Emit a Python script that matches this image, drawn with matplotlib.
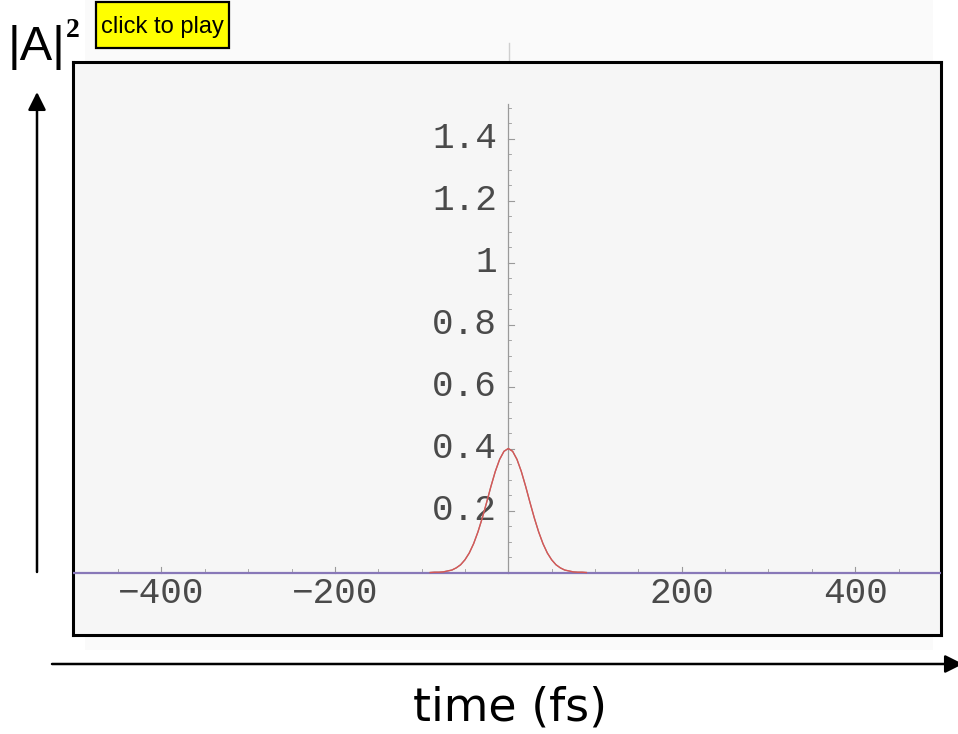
import matplotlib

matplotlib.use("Agg")
import matplotlib.pyplot as plt
from matplotlib.patches import FancyArrowPatch, Rectangle

W, H = 958, 734

# pulse intensity |A|^2 (fs, a.u.)
t_fs = [-90, -85, -80, -75, -70, -65, -60, -55, -50, -45, -40, -35, -30, -25, -20,
        -15, -10, -5, 0, 5, 10, 15, 20, 25, 30, 35, 40, 45, 50, 55, 60, 65, 70, 75,
        80, 85, 90]
intensity = [0.000, 0.001, 0.001, 0.002, 0.005, 0.008, 0.015, 0.025, 0.041, 0.063,
             0.093, 0.131, 0.176, 0.226, 0.278, 0.326, 0.365, 0.391, 0.400, 0.391,
             0.365, 0.326, 0.278, 0.226, 0.176, 0.131, 0.093, 0.063, 0.041, 0.025,
             0.015, 0.008, 0.005, 0.002, 0.001, 0.001, 0.000]

# flat trace along the time axis
base_t = [-510, 510]
base_val = [0.0, 0.0]

x_major = [-400, -200, 200, 400]
x_labels = ["-400", "-200", "200", "400"]
x_minor = [-450, -350, -300, -250, -150, -100, -50, 50, 100, 150, 250, 300, 350, 450]
y_major = [0.2, 0.4, 0.6, 0.8, 1.0, 1.2, 1.4]
y_labels = ["0.2", "0.4", "0.6", "0.8", "1", "1.2", "1.4"]
y_minor = [0.05, 0.1, 0.15, 0.25, 0.3, 0.35, 0.45, 0.5, 0.55, 0.65, 0.7, 0.75,
           0.85, 0.9, 0.95, 1.05, 1.1, 1.15, 1.25, 1.3, 1.35, 1.45, 1.5]

fig = plt.figure(figsize=(W / 100, H / 100), dpi=100)

# pixel-space overlay for the slide decorations
bg = fig.add_axes([0, 0, 1, 1], zorder=0)
bg.set_xlim(0, W)
bg.set_ylim(H, 0)
bg.axis("off")
bg.add_patch(Rectangle((85, 0), 848, 650, facecolor="#fafafa", edgecolor="none"))
bg.plot([509, 509], [43, 62], color="#cfcfcf", lw=1)

# main plot frame
left, right, top, bottom = 73, 941, 62, 635
ax = fig.add_axes([left / W, 1 - bottom / H, (right - left) / W, (bottom - top) / H], zorder=1)
ax.set_facecolor("#f6f6f6")
ax.set_xlim(-502, 499)
ax.set_ylim(-0.2016, 1.647)
ax.set_xticks([])
ax.set_yticks([])
for s in ax.spines.values():
    s.set_linewidth(2.2)
    s.set_color("black")

mono = "Liberation Mono"
tick_c = "#9a9a9a"
lab_c = "#4a4a4a"

# Mathematica-style axes through the origin
ax.plot([0, 0], [0, 1.51], color=tick_c, lw=0.9, zorder=2)
for v in y_major:
    ax.plot([0, 6], [v, v], color=tick_c, lw=0.8, zorder=2)
for v in y_minor:
    ax.plot([0, 3.5], [v, v], color=tick_c, lw=0.6, zorder=2)
for v in x_major:
    ax.plot([v, v], [0, 0.017], color=tick_c, lw=0.8, zorder=2)
for v in x_minor:
    ax.plot([v, v], [0, 0.01], color=tick_c, lw=0.6, zorder=2)

for v, lab in zip(y_major, y_labels):
    ax.text(-13, v, lab, ha="right", va="center", fontsize=26, family=mono, color=lab_c)
for v, lab in zip(x_major, x_labels):
    ax.text(v, -0.069, lab.replace("-", "\u2212"), ha="center", va="center",
            fontsize=26, family=mono, color=lab_c)

ax.plot(base_t, base_val, color="#8878b8", lw=1.6, zorder=3)
ax.plot(t_fs, intensity, color="#7a7a7a", lw=0.9, zorder=4)
ax.plot(t_fs, intensity, color="#e8504f", lw=1.0, alpha=0.85, zorder=5)

# axis arrows and labels
bg.add_patch(FancyArrowPatch((37, 572), (37, 92), arrowstyle="-|>", mutation_scale=27,
                             lw=1.8, color="black", shrinkA=0, shrinkB=0))
bg.add_patch(FancyArrowPatch((52, 664), (963, 664), arrowstyle="-|>", mutation_scale=27,
                             lw=1.8, color="black", shrinkA=0, shrinkB=0))

bg.text(8, 60, "|A|", fontsize=35, family="Liberation Sans", ha="left", va="baseline")
bg.text(66, 37, "2", fontsize=20, family="Liberation Serif", fontweight="bold",
        ha="left", va="baseline")

bg.add_patch(Rectangle((96, 2), 133, 46, facecolor="#ffff00", edgecolor="black", lw=1.6))
bg.text(162.5, 27.5, "click to play", fontsize=17, family="Liberation Sans",
        ha="center", va="center")

bg.text(510, 708, "time (fs)", fontsize=33, family="DejaVu Sans", ha="center", va="center")

fig.savefig("out.png", dpi=100)
